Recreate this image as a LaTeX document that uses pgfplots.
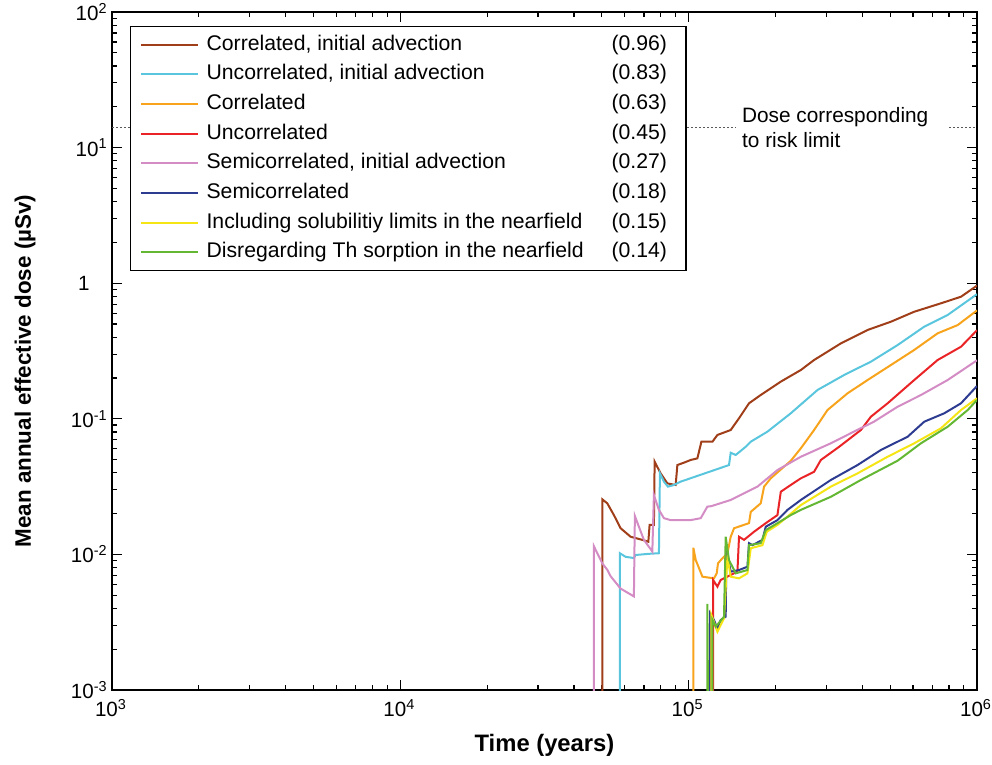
\documentclass[border=0pt]{standalone}
\usepackage{pgfplots}
\pgfplotsset{compat=1.18}
\usepackage{fontspec}
\setmainfont{Liberation Sans}
\definecolor{cbrown}{HTML}{A03E19}
\definecolor{ccyan}{HTML}{5AC6DE}
\definecolor{corange}{HTML}{F7A31B}
\definecolor{cred}{HTML}{E92326}
\definecolor{cpink}{HTML}{D48CC4}
\definecolor{cblue}{HTML}{2D3C91}
\definecolor{cyellow}{HTML}{F5E514}
\definecolor{cgreen}{HTML}{64B732}
\newcommand{\legent}[2]{\hspace*{2bp}\makebox[202.5bp][l]{#1}#2\hspace*{3bp}}
\begin{document}
\begin{tikzpicture}
\useasboundingbox (-56bp,-37.5bp) rectangle (440bp,345bp);
\begin{axis}[
  scale only axis, width=432.5bp, height=339bp,
  xmode=log, ymode=log,
  xmin=1e3, xmax=1e6, ymin=1e-3, ymax=1e2,
  axis line style={line width=0.9bp},
  every tick/.style={black, line width=0.6bp},
  major tick length=5bp, minor tick length=2.5bp,
  tick align=inside,
  xtick={1e3,1e4,1e5,1e6},
  xticklabels={10\textsuperscript{3},10\textsuperscript{4},10\textsuperscript{5},10\textsuperscript{6}},
  ytick={1e-3,1e-2,1e-1,1,1e1,1e2},
  yticklabels={10\textsuperscript{-3},10\textsuperscript{-2},10\textsuperscript{-1},1\hspace*{9bp},10\textsuperscript{1},10\textsuperscript{2}},
  ticklabel style={font=\fontsize{10.3bp}{12bp}\selectfont},
  xticklabel style={inner sep=0pt, anchor=north, yshift=-4.5bp, xshift=-0.5bp},
  yticklabel style={inner sep=0pt, anchor=east, xshift=-2bp},
  xlabel={Time (years)},
  ylabel={Mean annual effective dose (µSv)},
  xlabel style={font=\fontsize{11.9bp}{14bp}\selectfont\bfseries, at={([yshift=-27.5bp]axis description cs:0.5,0)}, anchor=center, inner sep=0pt},
  ylabel style={font=\fontsize{11.2bp}{14bp}\selectfont\bfseries, at={([xshift=-43.5bp,yshift=-10bp]axis description cs:0,0.5)}, anchor=center, inner sep=0pt},
  legend cell align=left,
  legend style={at={(0.0208,0.979)}, anchor=north west, draw=black, line width=0.6bp, fill=white,
    font=\fontsize{10.6bp}{12bp}\selectfont, inner xsep=4.75bp, inner ysep=3.6bp,
    row sep=4.35bp, nodes={inner xsep=1.75bp, inner ysep=0pt, text height=8bp, text depth=2.5bp}},
  legend image code/.code={\draw[#1, line width=1bp] (0bp,0bp) -- (28.5bp,0bp);},
  every axis plot/.append style={line width=1bp},
]
% risk limit dotted line
\addplot[forget plot, densely dotted, gray!70!black, line width=0.6bp] coordinates {(1e3,14) (1.455e5,14)};
\addplot[forget plot, densely dotted, gray!70!black, line width=0.6bp] coordinates {(8.0e5,14) (1e6,14)};
\node[anchor=west, align=left, inner sep=0pt, font=\fontsize{10.4bp}{12.5bp}\selectfont] at (axis cs:1.528e5,14) {Dose corresponding\\to risk limit};

\addplot[cbrown] coordinates {
(5.015e4,5e-4) (5.015e4,0.0255) (5.221e4,0.0238) (5.504e4,0.0195) (5.806e4,0.0156)
(6.289e4,0.0135) (6.905e4,0.0128) (7.245e4,0.0124) (7.321e4,0.0165) (7.577e4,0.0165)
(7.62e4,0.0483) (7.994e4,0.0396) (8.433e4,0.0334) (9.013e4,0.0325) (9.137e4,0.0456)
(9.63e4,0.0475) (1.016e5,0.0497) (1.072e5,0.0511) (1.107e5,0.0678) (1.209e5,0.0678)
(1.258e5,0.0760) (1.399e5,0.0827) (1.495e5,0.1009) (1.619e5,0.1301) (1.778e5,0.1498)
(2.087e5,0.188) (2.449e5,0.229) (2.723e5,0.2714) (3.372e5,0.360) (4.174e5,0.452)
(5.028e5,0.520) (6.058e5,0.616) (7.499e5,0.711) (8.8e5,0.795) (1e6,0.96)};
\addlegendentry{\legent{Correlated, initial advection}{(0.96)}}

\addplot[ccyan] coordinates {
(5.774e4,5e-4) (5.774e4,0.0102) (6.042e4,0.0096) (6.457e4,0.0094) (6.546e4,0.0099)
(7.28e4,0.0101) (7.887e4,0.0102) (7.95e4,0.0396) (8.207e4,0.0344) (8.473e4,0.0316)
(8.892e4,0.0325) (9.38e4,0.0344) (1.38e5,0.0456) (1.399e5,0.0562) (1.456e5,0.0541)
(1.577e5,0.0622) (1.642e5,0.0678) (1.876e5,0.0804) (2.26e5,0.1098) (2.798e5,0.1631)
(3.462e5,0.2104) (4.285e5,0.2637) (5.306e5,0.350) (6.562e5,0.478) (7.912e5,0.583) (1e6,0.83)};
\addlegendentry{\legent{Uncorrelated, initial advection}{(0.83)}}

\addplot[corange] coordinates {
(1.038e5,5e-4) (1.038e5,0.0112) (1.058e5,0.00909) (1.116e5,0.00685) (1.224e5,0.00666)
(1.251e5,0.00725) (1.264e5,0.0086) (1.309e5,0.00936) (1.363e5,0.0102) (1.399e5,0.0135)
(1.437e5,0.0156) (1.619e5,0.0170) (1.642e5,0.0206) (1.778e5,0.0238) (1.826e5,0.0316)
(1.926e5,0.0364) (2.26e5,0.049) (2.449e5,0.0606) (2.723e5,0.0827) (3.031e5,0.1161)
(3.557e5,0.1542) (4.174e5,0.1932) (5.028e5,0.2493) (6.058e5,0.322) (7.303e5,0.427)
(8.57e5,0.491) (1e6,0.63)};
\addlegendentry{\legent{Correlated}{(0.63)}}

\addplot[cred] coordinates {
(1.215e5,5e-4) (1.215e5,0.00648) (1.258e5,0.00578) (1.291e5,0.00648) (1.399e5,0.00705)
(1.476e5,0.00746) (1.495e5,0.0135) (1.556e5,0.0128) (1.686e5,0.0147) (1.851e5,0.0170)
(2.032e5,0.0195) (2.087e5,0.0290) (2.26e5,0.0325) (2.449e5,0.0364) (2.723e5,0.0407)
(2.874e5,0.0497) (3.326e5,0.0622) (3.957e5,0.0827) (4.285e5,0.1036) (4.897e5,0.1301)
(6.058e5,0.1932) (7.303e5,0.2714) (8.8e5,0.340) (1e6,0.45)};
\addlegendentry{\legent{Uncorrelated}{(0.45)}}

\addplot[cpink] coordinates {
(4.69e4,5e-4) (4.69e4,0.0115) (5.015e4,0.0086) (5.221e4,0.0077) (5.362e4,0.0069)
(5.806e4,0.0056) (6.457e4,0.0049) (6.508e4,0.0192) (6.72e4,0.016) (6.994e4,0.0128)
(7.481e4,0.0105) (7.577e4,0.0274) (7.887e4,0.0213) (8.207e4,0.0185) (8.658e4,0.0179)
(1.016e5,0.0179) (1.101e5,0.0185) (1.161e5,0.0225) (1.199e5,0.0227) (1.399e5,0.0252)
(1.732e5,0.0316) (2.032e5,0.0419) (2.449e5,0.0525) (3.113e5,0.0660) (3.741e5,0.0804)
(4.39e5,0.0952) (5.306e5,0.1228) (6.392e5,0.1498) (7.912e5,0.1932) (1e6,0.27)};
\addlegendentry{\legent{Semicorrelated, initial advection}{(0.27)}}

\addplot[cblue] coordinates {
(1.186e5,5e-4) (1.186e5,0.00368) (1.224e5,0.00328) (1.258e5,0.00285) (1.291e5,0.00328)
(1.344e5,0.00347) (1.352e5,0.0108) (1.399e5,0.00746) (1.495e5,0.00767) (1.599e5,0.00811)
(1.619e5,0.0121) (1.664e5,0.0117) (1.803e5,0.0128) (1.851e5,0.0160) (2.032e5,0.0179)
(2.202e5,0.0213) (2.449e5,0.0252) (3.113e5,0.0354) (3.853e5,0.0456) (4.642e5,0.0589)
(5.748e5,0.0738) (6.562e5,0.0952) (7.7e5,0.1098) (8.8e5,0.1301) (1e6,0.1745)};
\addlegendentry{\legent{Semicorrelated}{(0.18)}}

\addplot[cyellow] coordinates {
(1.199e5,5e-4) (1.199e5,0.00357) (1.258e5,0.00269) (1.326e5,0.00338) (1.363e5,0.0096)
(1.399e5,0.00685) (1.495e5,0.00666) (1.599e5,0.00725) (1.642e5,0.0111) (1.803e5,0.0117)
(1.866e5,0.0147) (2.032e5,0.0165) (2.202e5,0.0190) (2.449e5,0.0231) (3.113e5,0.0316)
(3.853e5,0.0396) (4.897e5,0.0525) (6.058e5,0.0660) (7.499e5,0.0851) (8.8e5,0.1161) (1e6,0.1416)};
\addlegendentry{\legent{Including solubilitiy limits in the nearfield}{(0.15)}}

\addplot[cgreen] coordinates {
(1.161e5,5e-4) (1.161e5,0.00431) (1.169e5,5e-4) (1.209e5,5e-4) (1.209e5,0.00328)
(1.241e5,0.00293) (1.326e5,0.00347) (1.344e5,0.0135) (1.38e5,0.00909) (1.456e5,0.00725)
(1.599e5,0.00767) (1.619e5,0.0117) (1.778e5,0.0121) (1.851e5,0.0151) (2.032e5,0.0170)
(2.26e5,0.0195) (2.449e5,0.0213) (3.113e5,0.0266) (3.957e5,0.0354) (5.306e5,0.0491)
(6.392e5,0.0660) (7.912e5,0.0874) (9.285e5,0.1161) (1e6,0.1376)};
\addlegendentry{\legent{Disregarding Th sorption in the nearfield}{(0.14)}}
\end{axis}
\end{tikzpicture}
\end{document}
